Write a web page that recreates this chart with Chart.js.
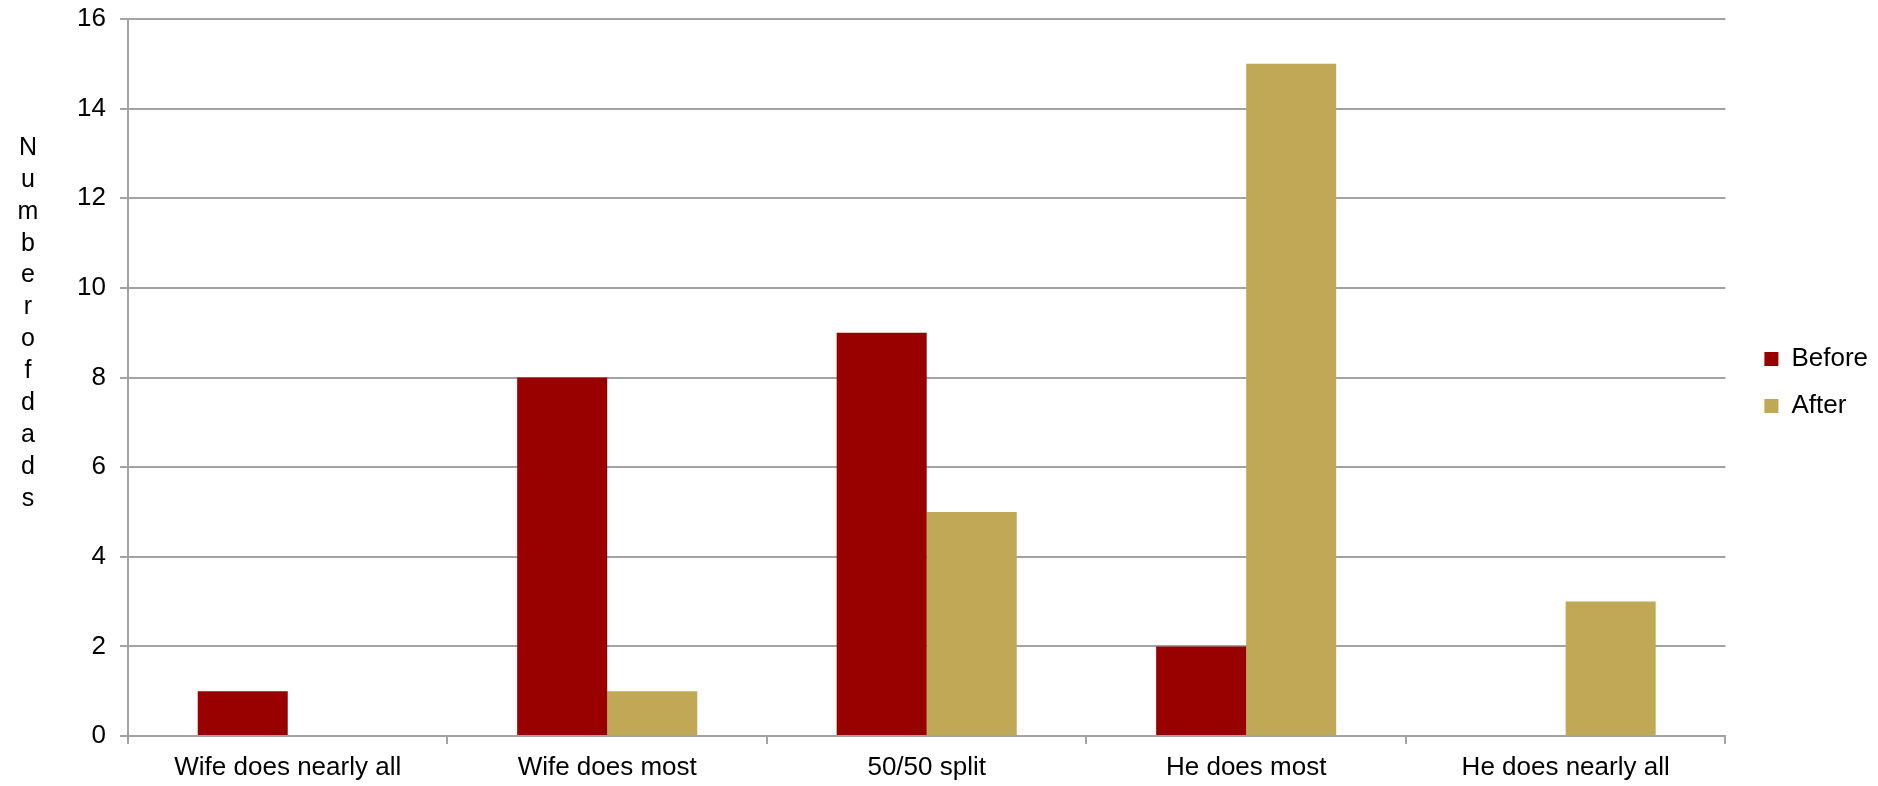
<!DOCTYPE html>
<html>
<head>
<meta charset="utf-8">
<script src="https://cdn.jsdelivr.net/npm/chart.js@4/dist/chart.umd.min.js"></script>
<style>
  html, body { margin: 0; padding: 0; background: #fff; }
  #wrap { width: 1878px; height: 786px; position: relative; }
</style>
</head>
<body>
<div id="wrap"><canvas id="c" width="1878" height="786"></canvas></div>
<script>
// Household chores split, reported by dads before and after
const categories = ['Wife does nearly all', 'Wife does most', '50/50 split', 'He does most', 'He does nearly all'];
const beforeValues = [1, 8, 9, 2, 0];
const afterValues = [0, 1, 5, 15, 3];
const seriesNames = ['Before', 'After'];
const yTitle = 'Number of dads';
const yTicks = [0, 2, 4, 6, 8, 10, 12, 14, 16];

const FONT = '"Liberation Sans", Arial, sans-serif';
const GRID = '#A3A3A3';
const SIZE = 26;

// Vertical axis title drawn as one stacked letter per line
const stackedTitle = {
  id: 'stackedTitle',
  afterDraw(chart) {
    const ctx = chart.ctx;
    const letters = yTitle.replace(/\s+/g, '').split('');
    ctx.save();
    ctx.fillStyle = '#000';
    ctx.font = '25px ' + FONT;
    ctx.textAlign = 'center';
    ctx.textBaseline = 'middle';
    const startY = 148, step = 31.9;
    letters.forEach((ch, i) => ctx.fillText(ch, 28, startY + i * step));
    ctx.restore();
  }
};

// Nudge the legend block away from the plot, a little higher
const legendNudge = {
  id: 'legendNudge',
  afterLayout(chart) {
    const lg = chart.legend;
    if (!lg) return;
    const dx = 18, dy = -20;
    lg.left += dx; lg.right += dx;
    lg.top += dy; lg.bottom += dy;
  }
};

new Chart(document.getElementById('c'), {
  type: 'bar',
  data: {
    labels: categories,
    datasets: [
      { label: seriesNames[0], data: beforeValues, backgroundColor: '#990000' },
      { label: seriesNames[1], data: afterValues, backgroundColor: '#C0A857' }
    ]
  },
  options: {
    responsive: false,
    animation: false,
    devicePixelRatio: 1,
    layout: { padding: { left: 0, top: 19, right: 18, bottom: 0 } },
    datasets: { bar: { barPercentage: 1, categoryPercentage: 0.5636 } },
    plugins: {
      legend: {
        position: 'right',
        labels: {
          boxWidth: 14,
          boxHeight: 14,
          padding: 21,
          color: '#000',
          font: { family: FONT, size: SIZE }
        }
      },
      tooltip: { enabled: false }
    },
    scales: {
      x: {
        grid: { display: true, drawOnChartArea: false, color: GRID, lineWidth: 2, tickLength: 8, offset: true },
        border: { color: GRID, width: 2 },
        ticks: { color: '#000', font: { family: FONT, size: SIZE }, padding: 8, maxRotation: 0, autoSkip: false },
        afterFit(scale) { scale.height = 50; }
      },
      y: {
        min: 0, max: 16,
        afterBuildTicks(scale) { scale.ticks = yTicks.map(v => ({ value: v })); },
        grid: { color: GRID, lineWidth: 2, tickLength: 8 },
        border: { color: GRID, width: 2 },
        ticks: { color: '#000', font: { family: FONT, size: SIZE }, padding: 14 },
        afterFit(scale) { scale.width = 128; scale.paddingTop = 0; scale.paddingBottom = 0; }
      }
    }
  },
  plugins: [stackedTitle, legendNudge]
});
</script>
</body>
</html>
